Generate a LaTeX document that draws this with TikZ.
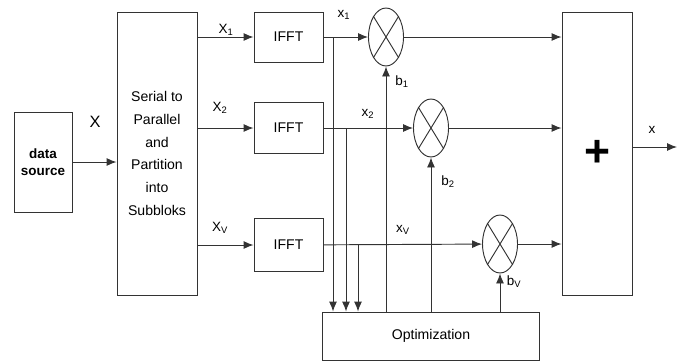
\documentclass[tikz,border=0pt]{standalone}
\usepackage{fontspec}
\setmainfont{Liberation Sans}
\usetikzlibrary{arrows.meta}
\usetikzlibrary{positioning}
\usetikzlibrary{shapes.geometric}

\begin{document}
\begin{tikzpicture}[
		x=0.03cm, y=-0.03cm,
		line width=0.8pt,
		draw=black!80,
		every edge/.append style={-{Latex[length=3mm,width=2.4mm]}},
		block node/.style={draw, rectangle, inner sep=0pt, align=center,
			font=\fontsize{12}{19.5}\selectfont},
		mult node/.style={draw, ellipse, inner sep=0pt,
			minimum width=1.05cm, minimum height=1.74cm},
		label node/.style={inner sep=1pt, font=\fontsize{11.5}{13}\selectfont}
		]
		\useasboundingbox (0,0) rectangle (683,362);
		
		\node[block node, minimum width=1.74cm, minimum height=3cm,
			font=\fontsize{11.5}{14}\selectfont\bfseries] (src) at (43,162) {data\\source};
		\node[block node, minimum width=2.4cm, minimum height=8.49cm] (sp) at (157,153.5)
			{Serial to\\Parallel\\and\\Partition\\into\\Subbloks};
		\node[block node, minimum width=2.07cm, minimum height=1.5cm] (f1) at (288.5,37) {IFFT};
		\node[block node, minimum width=2.07cm, minimum height=1.55cm] (f2) at (288.5,128) {IFFT};
		\node[block node, minimum width=2.07cm, minimum height=1.58cm] (f3) at (288.5,245) {IFFT};
		\node[mult node] (m1) at (386,37) {};
		\node[mult node] (m2) at (431,128) {};
		\node[mult node] (m3) at (500,244) {};
		\node[block node, minimum width=2.1cm, minimum height=8.49cm,
			font=\fontsize{38}{38}\selectfont\bfseries] (sum) at (597,153.5) {+};
		\node[block node, minimum width=6.51cm, minimum height=1.44cm] (opt) at (431,336) {Optimization};
		
		% crosses inside the multipliers
		\foreach \m in {m1,m2,m3} {
			\draw (\m.north west) -- (\m.south east);
			\draw (\m.north east) -- (\m.south west);
		}
		
		% labels
		\node[label node, font=\fontsize{14}{16}\selectfont] (lX) at (95,122) {X};
		\node[label node] (lX1) at (226,30) {X\textsubscript{1}};
		\node[label node] (lX2) at (220,108) {X\textsubscript{2}};
		\node[label node] (lXV) at (220,228) {X\textsubscript{V}};
		\node[label node] (lx1) at (344,15) {x\textsubscript{1}};
		\node[label node] (lx2) at (368,114) {x\textsubscript{2}};
		\node[label node] (lxV) at (403,230) {x\textsubscript{V}};
		\node[label node] (lb1) at (402,82) {b\textsubscript{1}};
		\node[label node] (lb2) at (448,182) {b\textsubscript{2}};
		\node[label node] (lbV) at (514,282) {b\textsubscript{V}};
		\node[label node] (lx) at (652,130) {x};
		
		\coordinate (out) at (677,147);
		\coordinate (t1) at (333,37);
		\coordinate (t2) at (346,128);
		\coordinate (t3) at (358,245);
		
		\path
		(src) edge (src -| sp.west)
		(sp.east |- f1) edge (f1)
		(sp.east |- f2) edge (f2)
		(sp.east |- f3) edge (f3)
		(f1) edge (m1)
		(f2) edge (m2)
		(f3) edge (m3)
		(m1) edge (sum.west |- m1)
		(m2) edge (sum.west |- m2)
		(m3) edge (sum.west |- m3)
		(sum.east |- out) edge (out)
		(t1) edge (t1 |- opt.north)
		(t2) edge (t2 |- opt.north)
		(t3) edge (t3 |- opt.north)
		(opt.north -| m1.south) edge (m1.south)
		(opt.north -| m2.south) edge (m2.south)
		(opt.north -| m3.south) edge (m3.south);
	\end{tikzpicture}
\end{document}
